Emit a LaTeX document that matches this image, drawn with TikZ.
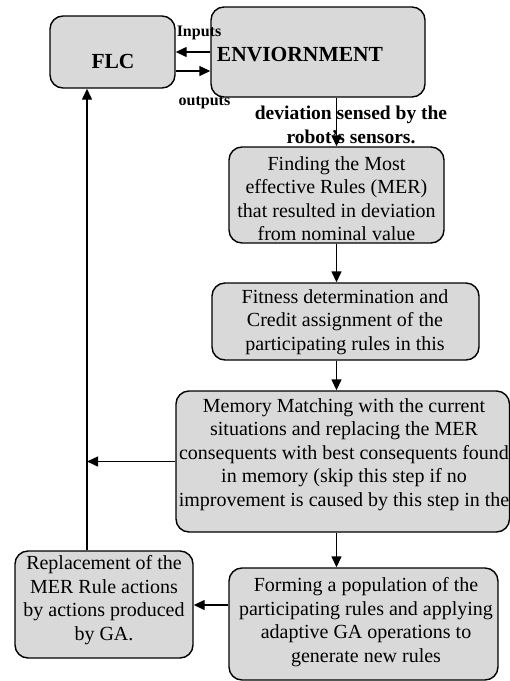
\documentclass[tikz,border=0pt]{standalone}
\usepackage{fontspec}
\setmainfont{Liberation Serif}
\usetikzlibrary{arrows.meta}
\definecolor{boxgray}{HTML}{D9D9D9}
\begin{document}
\begin{tikzpicture}[x=1pt,y=-1pt,
 box/.style={draw, line width=1.4pt, fill=boxgray, rounded corners=13pt, inner sep=0pt},
 txt/.style={align=center, inner sep=0pt, font=\fontsize{20}{23.5}\selectfont},
 btxt/.style={align=center, inner sep=0pt, font=\bfseries\fontsize{19.5}{24}\selectfont},
 big/.style={inner sep=0pt, font=\bfseries\fontsize{21.5}{24}\selectfont},
 lbl/.style={inner sep=0pt, font=\bfseries\fontsize{16}{19}\selectfont},
 arr/.style={line width=1.4pt, -{Triangle[length=11pt,width=10pt]}}]
\useasboundingbox (0,0) rectangle (510,681);
% boxes
\node[box, minimum width=125pt, minimum height=72pt] (flc) at (112.5,52) {};
\node[box, minimum width=214pt, minimum height=90pt] (env) at (318,52) {};
\node[box, minimum width=215pt, minimum height=96pt] (find) at (336.5,195) {};
\node[box, minimum width=267pt, minimum height=77pt] (fit) at (345.5,321.5) {};
\node[box, minimum width=333.5pt, minimum height=141pt] (mem) at (342.75,461.5) {};
\node[box, minimum width=269pt, minimum height=112pt] (form) at (363.5,624) {};
\node[box, minimum width=178pt, minimum height=107pt] (repl) at (104,604.5) {};
% texts
\node[big] (flct) at (113,61) {FLC};
\node[big] (envt) at (300,55) {ENVIORNMENT};
\node[lbl] (inl) at (199,33) {Inputs};
\node[lbl] (outl) at (204.5,103) {outputs};
\node[btxt] (dev) at (351,125) {deviation sensed by the\\robot's sensors.};
\node[txt] (findt) at (336.5,198.5) {Finding the Most\\effective Rules (MER)\\that resulted in deviation\\from nominal value};
\node[txt] (fitt) at (345,322) {Fitness determination and\\Credit assignment of the\\participating rules in this};
\node[txt] (memt) at (344,454.5) {Memory Matching with the current\\situations and replacing the MER\\consequents with best consequents found\\in memory (skip this step if no\\improvement is caused by this step in the};
\node[txt] (formt) at (366,622) {Forming a population of the\\participating rules and applying\\adaptive GA operations to\\generate new rules};
\node[txt] (replt) at (104,600) {Replacement of the\\MER Rule actions\\by actions produced\\by GA.};
% connectors
\coordinate (outy) at (0,71);
\coordinate (fbx) at (87,0);
\coordinate (gay) at (0,605);
\draw[arr] (env.west) -- (env.west -| flc.east);
\draw[arr] (flc.east |- outy) -- (env.west |- outy);
\draw[arr] (env.south -| find.north) -- (find.north);
\draw[arr] (find.south) -- (find.south |- fit.north);
\draw[arr] (find.south |- fit.south) -- (find.south |- mem.north);
\draw[arr] (find.south |- mem.south) -- (find.south |- form.north);
\draw[arr] (form.west |- gay) -- (repl.east |- gay);
\draw[arr] (mem.west) -- (mem.west -| fbx);
\draw[arr] (repl.north -| fbx) -- (flc.south -| fbx);
\end{tikzpicture}
\end{document}
